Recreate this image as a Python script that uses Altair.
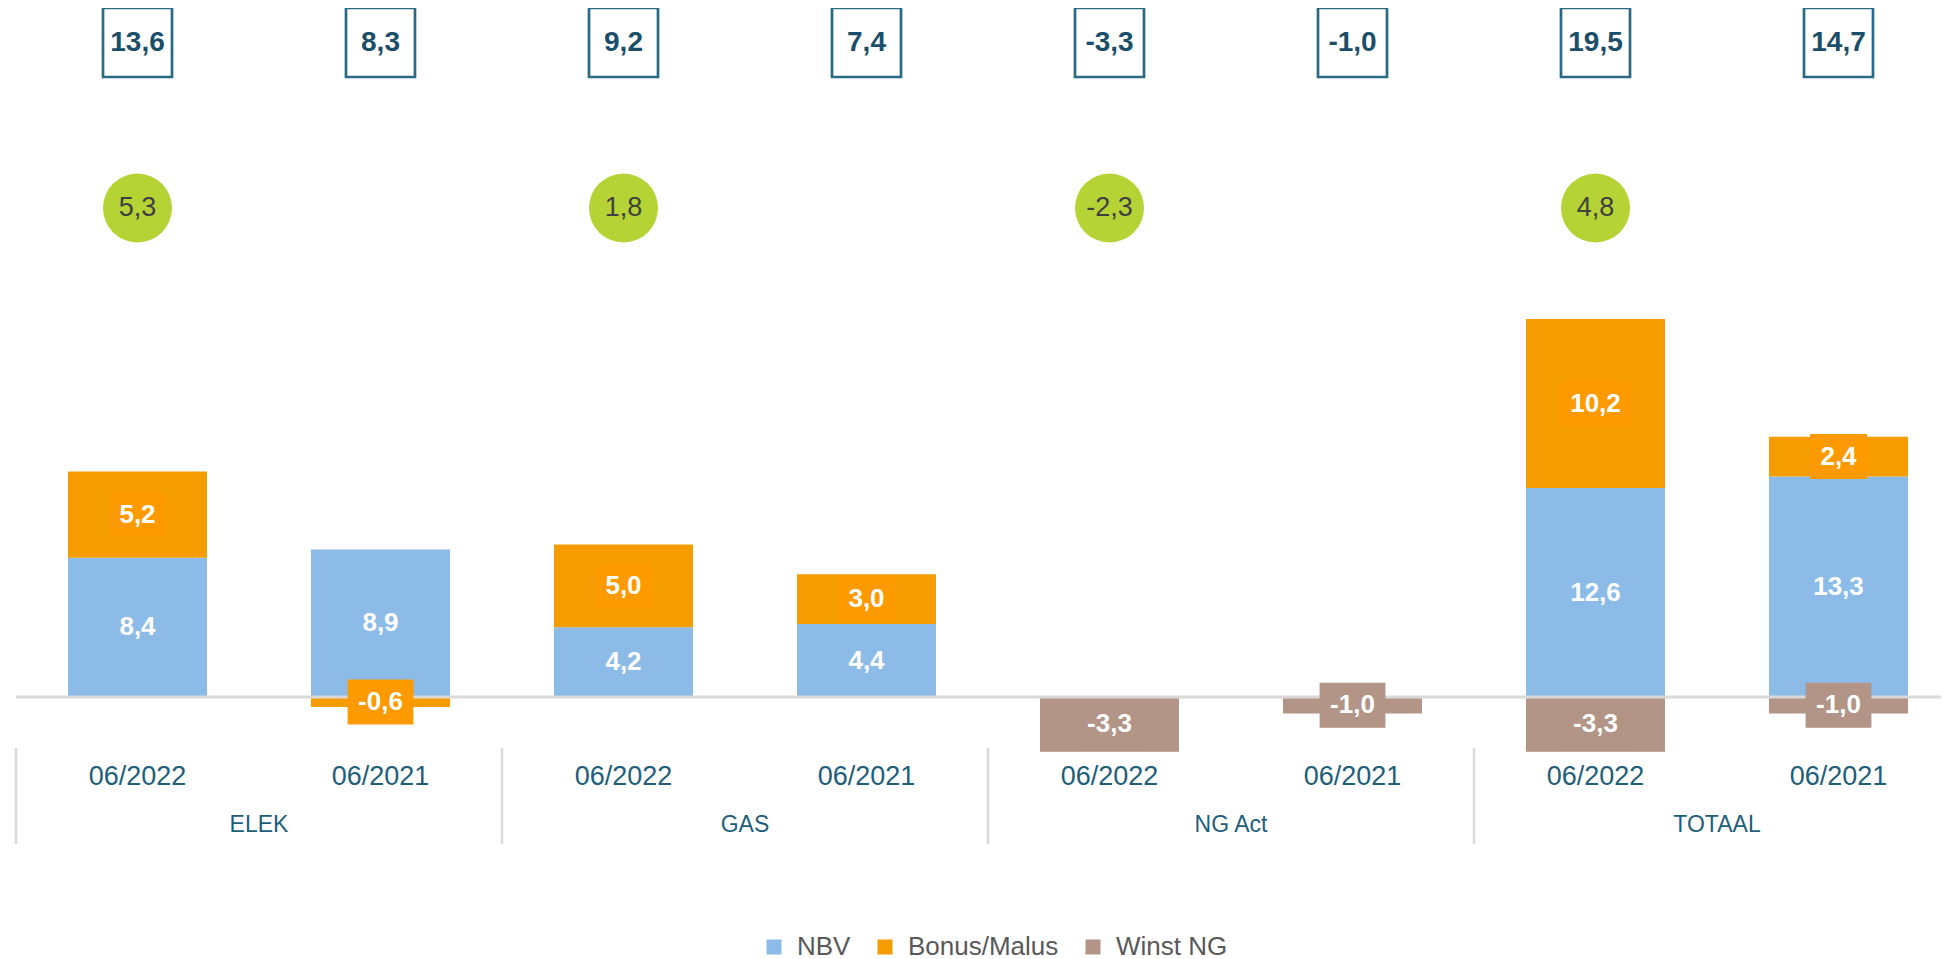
import altair as alt
import pandas as pd

# ---------------- data ----------------
groups = ["ELEK", "ELEK", "GAS", "GAS", "NG Act", "NG Act", "TOTAAL", "TOTAAL"]
periods = ["06/2022", "06/2021", "06/2022", "06/2021", "06/2022", "06/2021", "06/2022", "06/2021"]
nbv = [8.4, 8.9, 4.2, 4.4, None, None, 12.6, 13.3]
bonus_malus = [5.2, -0.6, 5.0, 3.0, None, None, 10.2, 2.4]
winst_ng = [None, None, None, None, -3.3, -1.0, -3.3, -1.0]
totals = [13.6, 8.3, 9.2, 7.4, -3.3, -1.0, 19.5, 14.7]
deltas = [5.3, None, 1.8, None, -2.3, None, 4.8, None]

series_names = ["NBV", "Bonus/Malus", "Winst NG"]
series_colors = ["#8BBBE6", "#F49C00", "#B29587"]
label_box_colors = {"Bonus/Malus": "#FD9A00", "Winst NG": "#B29587"}
group_order = ["ELEK", "GAS", "NG Act", "TOTAAL"]
period_order = ["06/2022", "06/2021"]

FONT = "Liberation Sans"


def fmt(v):
    return f"{v:.1f}".replace(".", ",")


def text_w(s, size):
    w = {"-": 0.333, ",": 0.278}
    return size * sum(w.get(c, 0.556) for c in s)


# stacked segments
rows = []
for i in range(len(groups)):
    pos, neg = 0.0, 0.0
    for name, vals in zip(series_names, [nbv, bonus_malus, winst_ng]):
        v = vals[i]
        if v is None:
            continue
        if v >= 0:
            y0, y1 = pos, pos + v
            pos = y1
        else:
            y0, y1 = neg, neg + v
            neg = y1
        rows.append(dict(group=groups[i], period=periods[i], series=name, value=v,
                         y0=y0, y1=y1, mid=(y0 + y1) / 2, label=fmt(v)))
bars = pd.DataFrame(rows)

PX_PER_UNIT = 16.58
half_h = 22.5 / PX_PER_UNIT
boxes = bars[bars["series"] != "NBV"].copy()
boxes["b0"] = boxes["mid"] - half_h
boxes["b1"] = boxes["mid"] + half_h
boxes["bw"] = boxes["label"].apply(lambda s: text_w(s, 26) + 21)
boxes["fillc"] = boxes["series"].map(label_box_colors)

top = pd.DataFrame({"group": groups, "period": periods, "label": [fmt(t) for t in totals]})
circ = pd.DataFrame({"group": groups, "period": periods, "d": deltas}).dropna()
circ["label"] = circ["d"].apply(fmt)
per = pd.DataFrame({"group": groups, "period": periods})
grp = pd.DataFrame({"group": group_order})
zero = pd.DataFrame({"z": [0.0]})

# ---------------- scales ----------------
xs = alt.Scale(domain=group_order, range=[0, 1944], paddingInner=0, paddingOuter=0)
xos = alt.Scale(domain=period_order, paddingInner=0.428, paddingOuter=0.214)
ys = alt.Scale(domain=[-51 / PX_PER_UNIT, 689 / PX_PER_UNIT], nice=False, zero=False)

X = alt.X("group:N", scale=xs, axis=None)
XO = alt.XOffset("period:N", scale=xos)

bar_layer = alt.Chart(bars).mark_bar().encode(
    x=X, xOffset=XO,
    y=alt.Y("y0:Q", scale=ys, axis=None), y2="y1:Q",
    color=alt.Color("series:N",
                    scale=alt.Scale(domain=series_names, range=series_colors),
                    legend=alt.Legend(orient="none", legendX=745, legendY=926,
                                      direction="horizontal", title=None,
                                      symbolType="square", symbolSize=225,
                                      symbolStrokeWidth=0, labelFont=FONT,
                                      labelFontSize=26, labelColor="#595959",
                                      labelOffset=10, columnPadding=21,
                                      padding=0)),
)

zero_rule = alt.Chart(zero).mark_rule(color="#D9D9D9", strokeWidth=3).encode(
    y=alt.Y("z:Q", scale=ys, axis=None)
)

sep = alt.Chart(grp).mark_rule(color="#D9D9D9", strokeWidth=2.5).encode(
    x=alt.X("group:N", scale=xs, axis=None, bandPosition=0),
    y=alt.value(740), y2=alt.value(836),
)

lbl_boxes = alt.Chart(boxes).mark_bar().encode(
    x=X, xOffset=XO,
    y=alt.Y("b0:Q", scale=ys, axis=None), y2="b1:Q",
    size=alt.Size("bw:Q", scale=None, legend=None),
    fill=alt.Fill("fillc:N", scale=None, legend=None),
)

bar_text = alt.Chart(bars).mark_text(font=FONT, fontSize=26, fontWeight="bold",
                                     color="white", baseline="middle").encode(
    x=X, xOffset=XO, y=alt.Y("mid:Q", scale=ys, axis=None), text="label:N"
)

top_box = alt.Chart(top).mark_point(shape="square", size=69 * 69, filled=False,
                                    strokeWidth=2.7, color="#2A6A85", opacity=1).encode(
    x=X, xOffset=XO, y=alt.value(34.5)
)
top_text = alt.Chart(top).mark_text(font=FONT, fontSize=28, fontWeight="bold",
                                    color="#1B4E68", baseline="middle").encode(
    x=X, xOffset=XO, y=alt.value(35), text="label:N"
)

circles = alt.Chart(circ).mark_point(shape="circle", size=69 * 69, filled=True,
                                     color="#B5D334", opacity=1).encode(
    x=X, xOffset=XO, y=alt.value(200)
)
circ_text = alt.Chart(circ).mark_text(font=FONT, fontSize=27, color="#404040",
                                      baseline="middle").encode(
    x=X, xOffset=XO, y=alt.value(200), text="label:N"
)

per_text = alt.Chart(per).mark_text(font=FONT, fontSize=27, color="#215E7A",
                                    baseline="middle").encode(
    x=X, xOffset=XO, y=alt.value(769), text="period:N"
)
grp_text = alt.Chart(grp).mark_text(font=FONT, fontSize=23, color="#215E7A",
                                    baseline="middle").encode(
    x=X, y=alt.value(817), text="group:N"
)

chart = alt.layer(
    bar_layer, zero_rule, sep, lbl_boxes, bar_text,
    top_box, top_text, circles, circ_text, per_text, grp_text,
).properties(
    width=1925, height=740,
    padding={"left": 8, "top": 0, "right": 0, "bottom": 212},
    autosize=alt.AutoSizeParams(type="none"),
).configure_view(stroke=None)

chart.save("out.html", embed_options={"renderer": "svg", "actions": False})
